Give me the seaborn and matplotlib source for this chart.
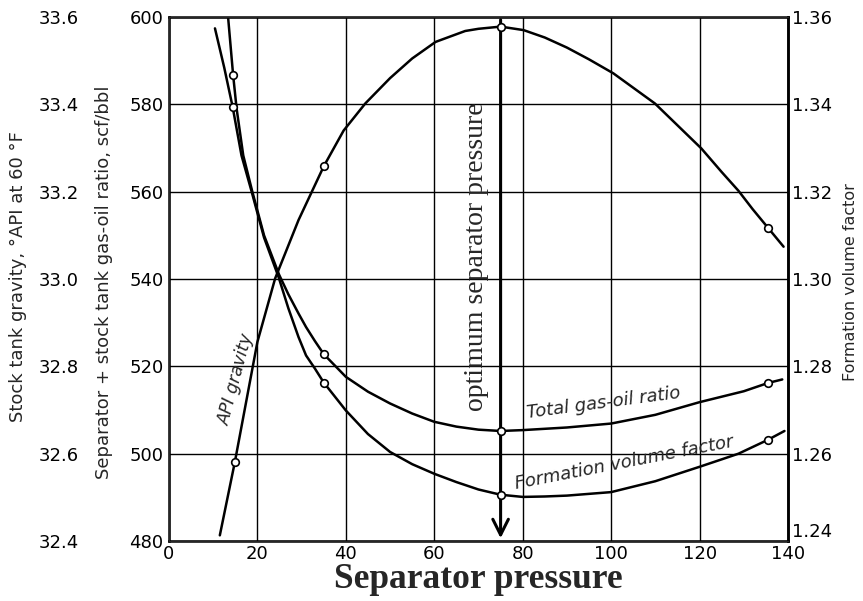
import numpy as np
import pandas as pd
import matplotlib
matplotlib.use("Agg")
import matplotlib.pyplot as plt
import seaborn as sns

# curve readings (separator pressure, value)
api_x = [11.5, 14.9, 20.0, 24.0, 29.3, 35.0, 39.5, 44.4, 50.0, 55.0, 60.3, 67.0, 70.0, 75.0,
         80.2, 85.0, 90.0, 95.0, 100.5, 109.9, 115.0, 120.4, 125.0, 128.8, 132.0, 135.5, 139.0]
api_y = [32.413, 32.581, 32.856, 33.001, 33.135, 33.258, 33.34, 33.402, 33.46, 33.505, 33.543,
         33.568, 33.573, 33.578, 33.570, 33.553, 33.53, 33.503, 33.471, 33.402, 33.352, 33.299,
         33.245, 33.202, 33.16, 33.117, 33.074]

gor_x = [13.4, 14.5, 15.3, 16.8, 18.8, 21.5, 24.9, 27.0, 29.3, 31.0, 33.0, 35.0, 40.0, 45.0,
         50.0, 55.0, 60.0, 65.0, 70.0, 75.0, 80.0, 85.0, 90.0, 100.0, 110.0, 120.0, 130.0,
         135.5, 138.7]
gor_y = [599.6, 586.8, 579.0, 568.3, 560.2, 550.0, 541.0, 536.5, 532.1, 529.0, 525.8, 522.8,
         517.6, 514.2, 511.5, 509.2, 507.3, 506.2, 505.5, 505.2, 505.4, 505.7, 506.0, 506.9,
         508.9, 511.8, 514.3, 516.2, 517.0]

fvf_x = [10.4, 12.5, 14.4, 16.4, 18.7, 21.5, 24.8, 27.0, 29.3, 31.0, 33.0, 35.0, 40.0, 45.0,
         50.0, 55.0, 60.0, 65.0, 70.0, 75.0, 80.0, 85.0, 90.0, 100.0, 110.0, 120.0, 125.0,
         128.8, 135.5, 139.2]
fvf_y = [1.3574, 1.3484, 1.3394, 1.3283, 1.3200, 1.3095, 1.3004, 1.2933, 1.2867, 1.2825,
         1.2795, 1.2763, 1.2699, 1.2645, 1.2604, 1.2576, 1.2554, 1.2535, 1.2518, 1.2506,
         1.2501, 1.2502, 1.2504, 1.2512, 1.2537, 1.2570, 1.2587, 1.2600, 1.2632, 1.2652]

# measured points (open circles)
api_pts_x = [14.9, 35.0, 75.0, 135.5]
api_pts_y = [32.581, 33.258, 33.578, 33.117]
gor_pts_x = [14.5, 35.0, 75.0, 135.5]
gor_pts_y = [586.8, 522.8, 505.2, 516.2]
fvf_pts_x = [14.4, 35.0, 75.0, 135.5]
fvf_pts_y = [1.3394, 1.2763, 1.2506, 1.2632]

optimum_p = 75

sns.set_style("white")
plt.rcParams['font.family'] = ['DejaVu Sans']

fig = plt.figure(figsize=(8.63, 6.01), dpi=100)
ax = fig.add_axes([0.1958, 0.0998, 0.9131 - 0.1958, 0.9717 - 0.0998])
ax2 = ax.twinx()
ax3 = ax.twinx()

lw = 1.8
sns.lineplot(x=gor_x, y=gor_y, ax=ax, color='black', lw=lw, sort=False, estimator=None)
sns.lineplot(x=fvf_x, y=fvf_y, ax=ax2, color='black', lw=lw, sort=False, estimator=None)
sns.lineplot(x=api_x, y=api_y, ax=ax3, color='black', lw=lw, sort=False, estimator=None)

pt_kw = dict(color='white', edgecolor='black', linewidth=1.2, s=30, zorder=5)
sns.scatterplot(x=gor_pts_x, y=gor_pts_y, ax=ax, **pt_kw)
sns.scatterplot(x=fvf_pts_x, y=fvf_pts_y, ax=ax2, **pt_kw)
sns.scatterplot(x=api_pts_x, y=api_pts_y, ax=ax3, **pt_kw)

ax.set_xlim(0, 140)
ax.set_ylim(480, 600)
ax2.set_ylim(1.24, 1.36)
ax3.set_ylim(32.4, 33.6)

ax.set_xticks(range(0, 141, 20))
ax.set_yticks(range(480, 601, 20))
ax2.set_yticks([1.24, 1.26, 1.28, 1.30, 1.32, 1.34, 1.36])
ax2.set_yticklabels(['1.24', '1.26', '1.28', '1.30', '1.32', '1.34', '1.36'])
ax3.set_yticks([32.4, 32.6, 32.8, 33.0, 33.2, 33.4, 33.6])
ax3.set_yticklabels(['32.4', '32.6', '32.8', '33.0', '33.2', '33.4', '33.6'])

for a in (ax, ax2, ax3):
    a.tick_params(length=0, labelsize=13, colors='black')
ax.tick_params(axis='y', pad=4)
ax.tick_params(axis='x', pad=3)
ax2.tick_params(axis='y', pad=3)
# bottom right label sits just above the axis line, as in the original
ax2.get_yticklabels()[0].set_va('bottom')

ax3.yaxis.set_ticks_position('left')
ax3.yaxis.set_label_position('left')
ax3.spines['left'].set_position(('outward', 62))
ax3.tick_params(axis='y', pad=3)
for side in ('left', 'right', 'top', 'bottom'):
    ax3.spines[side].set_visible(False)

for s in ax.spines.values():
    s.set_color('black')
    s.set_linewidth(1.8)
ax2.spines['right'].set_linewidth(1.8)
ax2.spines['right'].set_color('black')

ax.grid(True, color='black', lw=1.0)
ax.set_axisbelow(True)
ax.set_ylabel('')
ax.set_xlabel('Separator pressure', fontsize=25.5, fontweight='bold',
              family='Liberation Serif', labelpad=0)

# optimum arrow
ax.annotate('', xy=(optimum_p, 480), xytext=(optimum_p, 600),
            arrowprops=dict(arrowstyle='->', color='black', lw=2.2, mutation_scale=28))
ax.text(69.5, 545, 'optimum separator pressure', rotation=90, ha='center', va='center',
        fontsize=20, family='Liberation Serif')

ax.text(15.2, 517, 'API gravity', rotation=75, ha='center', va='center',
        fontsize=12.5, style='italic')
ax.text(98.3, 511.5, 'Total gas-oil ratio', rotation=7.5, ha='center', va='center',
        fontsize=13, style='italic')
ax.text(103.0, 497.8, 'Formation volume factor', rotation=11, ha='center', va='center',
        fontsize=13, style='italic')

fig.text(18 / 863, 1 - 277 / 601, 'Stock tank gravity, °API at 60 °F', rotation=90,
         ha='center', va='center', fontsize=13)
fig.text(104 / 863, 1 - 282 / 601, 'Separator + stock tank gas-oil ratio, scf/bbl',
         rotation=90, ha='center', va='center', fontsize=13)
fig.text(850 / 863, 1 - 282 / 601, 'Formation volume factor', rotation=90,
         ha='center', va='center', fontsize=11.5)

fig.savefig('out.png', dpi=100)
